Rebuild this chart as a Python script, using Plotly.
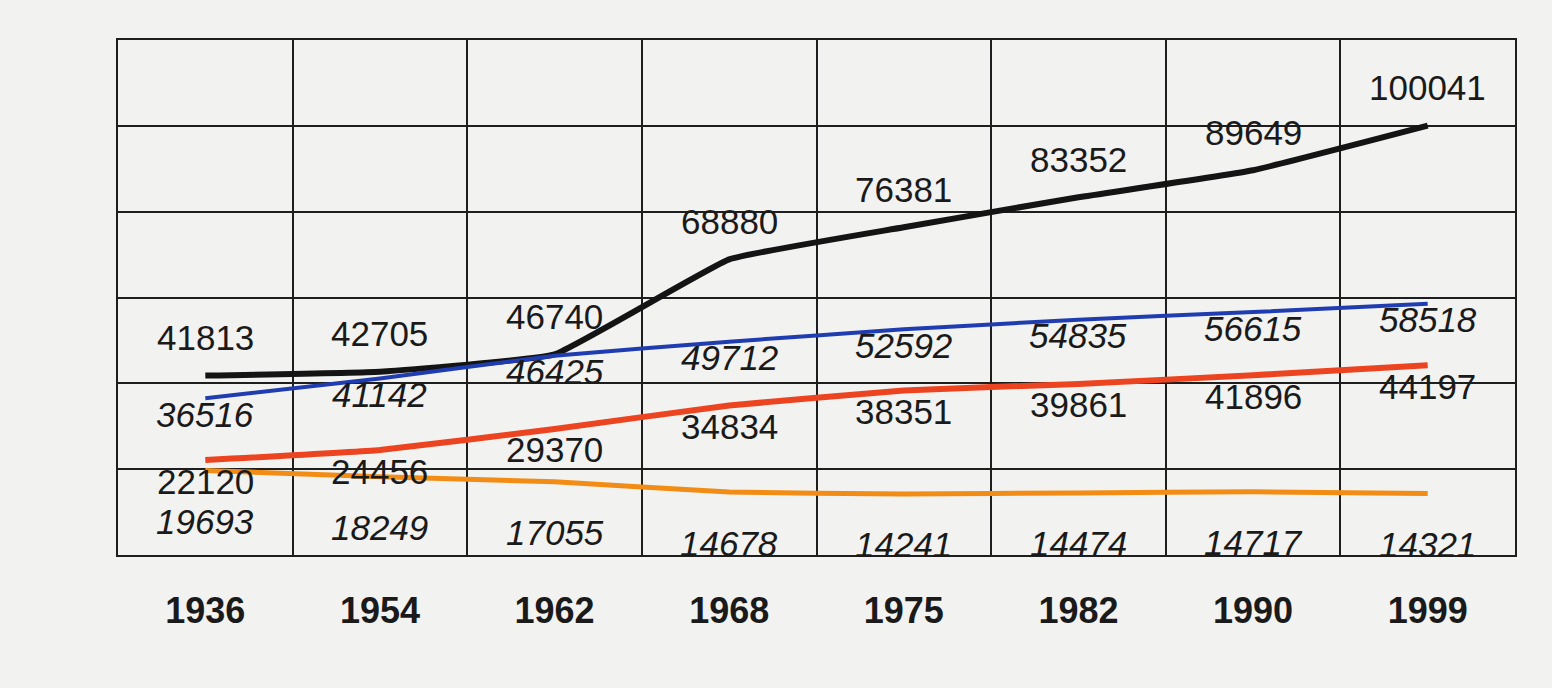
import plotly.graph_objects as go

years = ["1936", "1954", "1962", "1968", "1975", "1982", "1990", "1999"]
black_vals = [41813, 42705, 46740, 68880, 76381, 83352, 89649, 100041]
blue_vals = [36516, 41142, 46425, 49712, 52592, 54835, 56615, 58518]
red_vals = [22120, 24456, 29370, 34834, 38351, 39861, 41896, 44197]
orange_vals = [19693, 18249, 17055, 14678, 14241, 14474, 14717, 14321]

x = list(range(len(years)))

series = [
    # values, line colour, width, label style, label y-shift (px)
    (black_vals, "#141414", 6, "normal", 38),
    (blue_vals, "#1f3db0", 4, "italic", -16),
    (red_vals, "#ec4420", 6, "normal", -21),
    (orange_vals, "#f28c14", 5, "italic", -51),
]

fig = go.Figure()
annotations = []
for vals, color, width, style, shift in series:
    fig.add_trace(go.Scatter(x=x, y=vals, mode="lines",
                             line=dict(color=color, width=width, shape="spline", smoothing=0.3),
                             hoverinfo="skip", showlegend=False))
    for xi, v in zip(x, vals):
        annotations.append(dict(x=xi, y=v, text=str(v), showarrow=False, yshift=shift,
                                font=dict(family="Liberation Sans, Arial, sans-serif", size=35,
                                          color="#1a1a1a", style=style)))

paper = "#f2f2f0"
grid = "#1e1e1e"
fig.update_layout(
    width=1552, height=688,
    margin=dict(l=118, r=37, t=40, b=133),
    paper_bgcolor=paper, plot_bgcolor=paper,
    annotations=annotations,
    xaxis=dict(range=[-0.5, len(years) - 0.5], tickmode="array", tickvals=x, ticktext=years,
               showgrid=False, zeroline=False, ticks="", ticklabelstandoff=23,
               tickfont=dict(family="Liberation Sans, Arial, sans-serif", size=36, color="#1a1a1a",
                             weight="bold"),
               showline=True, linecolor=grid, linewidth=2, mirror=True,
               minor=dict(tickmode="array", tickvals=[i - 0.5 for i in range(len(years) + 1)],
                          showgrid=True, gridcolor=grid, gridwidth=2, ticks="")),
    yaxis=dict(range=[0, 120000], dtick=20000, showticklabels=False, showgrid=True,
               gridcolor=grid, gridwidth=2, zeroline=False, ticks="",
               showline=True, linecolor=grid, linewidth=2, mirror=True),
)

fig.write_html("out.html", config={"displayModeBar": False},
               post_script="document.body.style.margin='0';document.body.style.background='#f2f2f0';")
